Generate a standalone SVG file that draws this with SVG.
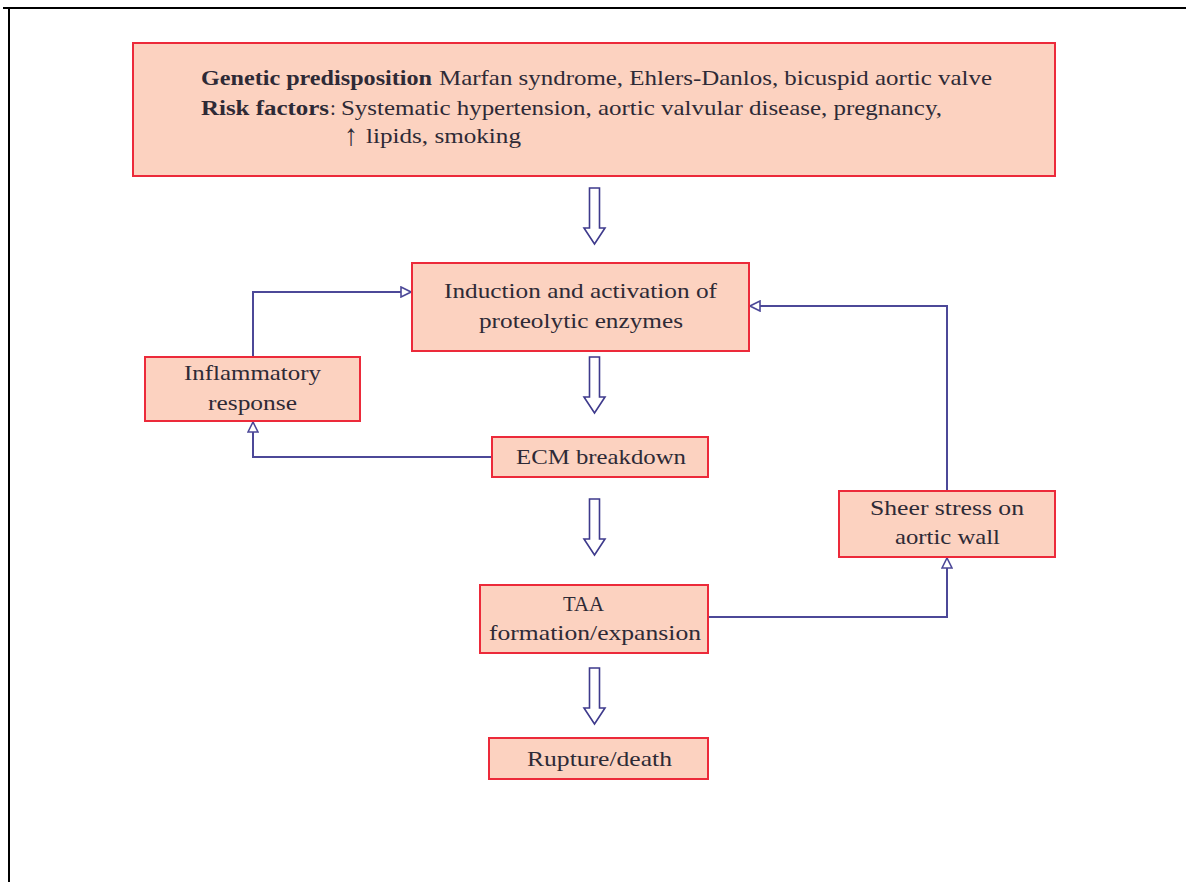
<svg xmlns="http://www.w3.org/2000/svg" width="1186" height="882" viewBox="0 0 1186 882">
<defs>
<style>
.box{fill:#fcd2c0;stroke:#ec2a3a;stroke-width:2}
.t{font-family:"Liberation Serif","DejaVu Serif",serif;font-size:21px;fill:#2e2a36}
.b{font-weight:bold}
.c{fill:none;stroke:#4c4898;stroke-width:2}
.blk{fill:#fff;stroke:#3e3a8c;stroke-width:1.6}
</style>
<marker id="tri" viewBox="0 0 12 12" refX="11" refY="6" markerWidth="12" markerHeight="12" markerUnits="userSpaceOnUse" orient="auto">
<path d="M1,1 L11,6 L1,11 Z" fill="#fff" stroke="#4c4898" stroke-width="1.6"/>
</marker>
<path id="blkarrow" d="M-5,0 L5,0 L5,40 L10.5,40 L0,56 L-10.5,40 L-5,40 Z"/>
</defs>
<rect width="1186" height="882" fill="#fff"/>
<g id="frame" stroke="#000" stroke-width="2">
<line x1="3" y1="8" x2="1186" y2="8"/>
<line x1="9" y1="8" x2="9" y2="882"/>
</g>
<g id="connectors">
<path class="c" d="M253,357 V292 H411" marker-end="url(#tri)"/>
<path class="c" d="M492,457 H253 V422" marker-end="url(#tri)"/>
<path class="c" d="M708,617 H947 V558" marker-end="url(#tri)"/>
<path class="c" d="M947,491 V306 H750" marker-end="url(#tri)"/>
<use href="#blkarrow" class="blk" x="594.5" y="188"/>
<use href="#blkarrow" class="blk" x="594.5" y="357"/>
<use href="#blkarrow" class="blk" x="594.5" y="499"/>
<use href="#blkarrow" class="blk" x="594.5" y="668"/>
</g>
<g id="n-top">
<rect class="box" x="133" y="43" width="922" height="133"/>
<text class="t b" x="201" y="85" textLength="231" lengthAdjust="spacingAndGlyphs">Genetic predisposition</text>
<text class="t" x="439" y="85" textLength="553" lengthAdjust="spacingAndGlyphs">Marfan syndrome, Ehlers-Danlos, bicuspid aortic valve</text>
<text class="t b" x="201" y="115" textLength="128" lengthAdjust="spacingAndGlyphs">Risk factors</text>
<text class="t" x="330" y="115">:</text>
<text class="t" x="341" y="115" textLength="601" lengthAdjust="spacingAndGlyphs">Systematic hypertension, aortic valvular disease, pregnancy,</text>
<text class="t" x="344" y="145" style="font-size:30px" textLength="14" lengthAdjust="spacingAndGlyphs">↑</text>
<text class="t" x="366" y="143" textLength="155" lengthAdjust="spacingAndGlyphs">lipids, smoking</text>
</g>
<g id="n-induction">
<rect class="box" x="412" y="263" width="337" height="88"/>
<text class="t" x="444" y="298" textLength="273" lengthAdjust="spacingAndGlyphs">Induction and activation of</text>
<text class="t" x="479" y="328" textLength="204" lengthAdjust="spacingAndGlyphs">proteolytic enzymes</text>
</g>
<g id="n-inflammatory">
<rect class="box" x="145" y="357" width="215" height="64"/>
<text class="t" x="184" y="380" textLength="137" lengthAdjust="spacingAndGlyphs">Inflammatory</text>
<text class="t" x="208" y="410" textLength="89" lengthAdjust="spacingAndGlyphs">response</text>
</g>
<g id="n-ecm">
<rect class="box" x="492" y="437" width="216" height="40"/>
<text class="t" x="516" y="464" textLength="170" lengthAdjust="spacingAndGlyphs">ECM breakdown</text>
</g>
<g id="n-taa">
<rect class="box" x="480" y="585" width="228" height="68"/>
<text class="t" x="563" y="611" textLength="41" lengthAdjust="spacingAndGlyphs">TAA</text>
<text class="t" x="489" y="640" textLength="212" lengthAdjust="spacingAndGlyphs">formation/expansion</text>
</g>
<g id="n-sheer">
<rect class="box" x="839" y="491" width="216" height="66"/>
<text class="t" x="870" y="515" textLength="154" lengthAdjust="spacingAndGlyphs">Sheer stress on</text>
<text class="t" x="895" y="544" textLength="105" lengthAdjust="spacingAndGlyphs">aortic wall</text>
</g>
<g id="n-rupture">
<rect class="box" x="489" y="738" width="219" height="41"/>
<text class="t" x="527" y="766" textLength="145" lengthAdjust="spacingAndGlyphs">Rupture/death</text>
</g>
</svg>
